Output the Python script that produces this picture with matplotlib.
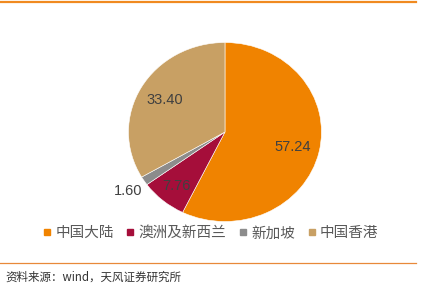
import matplotlib.pyplot as plt
import numpy as np
from matplotlib.lines import Line2D

plt.rcParams['font.family'] = ['Noto Sans CJK SC', 'DejaVu Sans']

# Data
regions = ['中国大陆', '澳洲及新西兰', '新加坡', '中国香港']
shares = [57.24, 7.76, 1.60, 33.40]
colors = ['#F08300', '#A50E3A', '#8C8C8C', '#C8A064']
label_r = [0.72, 0.79, 1.2, 0.72]
source = '资料来源：wind，天风证券研究所'

fig = plt.figure(figsize=(4.21, 2.88), dpi=100)
ax = fig.add_axes([0.3052, 0.2309, 0.4584, 0.6215])

wedges, _ = ax.pie(shares, colors=colors, startangle=90, counterclock=False,
                   wedgeprops=dict(edgecolor='white', linewidth=0.4))
ax.set_aspect('auto')
ax.set_xlim(-1, 1)
ax.set_ylim(-1, 1)

# value labels at wedge mid-angles
for w, v, r in zip(wedges, shares, label_r):
    ang = np.deg2rad((w.theta1 + w.theta2) / 2)
    ax.text(r * np.cos(ang), r * np.sin(ang), f'{v:.2f}', ha='center', va='center',
            fontsize=10.5, color='#404040', family=['Liberation Sans', 'DejaVu Sans'])

handles = [Line2D([], [], marker='s', linestyle='none', markersize=5, color=c) for c in colors]
fig.legend(handles, regions, loc='center', bbox_to_anchor=(0.5, 0.19), ncol=4,
           frameon=False, fontsize=10.5, handlelength=0.6, handletextpad=0.25,
           columnspacing=0.85, labelcolor='#595959')

# decorative lines and source note
fig.add_artist(Line2D([0, 0.988], [0.992, 0.992], color='#F08A20', lw=1.6))
fig.add_artist(Line2D([0, 0.988], [0.088, 0.088], color='#E8893A', lw=0.9))
fig.text(0.013, 0.038, source, fontsize=8.3, color='#333333', va='center')

fig.savefig('out.png', dpi=100)
